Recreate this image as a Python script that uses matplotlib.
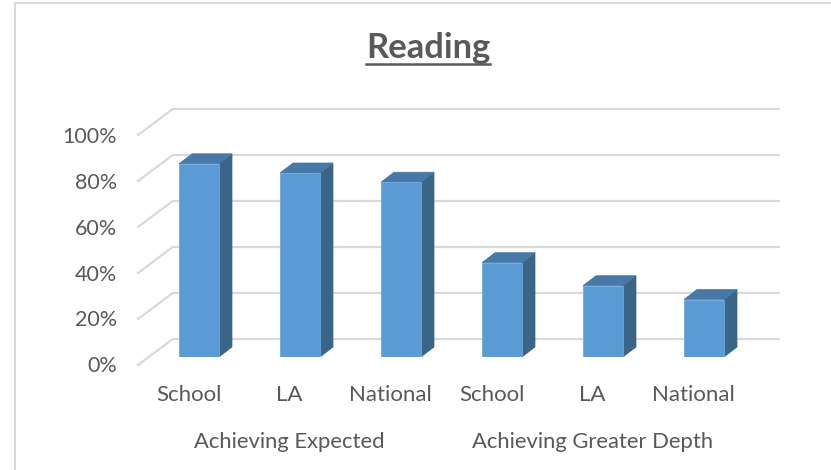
import matplotlib
matplotlib.use('Agg')
import matplotlib.pyplot as plt
from matplotlib.patches import Polygon

categories = ['School', 'LA', 'National', 'School', 'LA', 'National']
groups = ['Achieving Expected', 'Achieving Greater Depth']
group_pos = [1, 4]
values = [84, 80, 76, 41, 31, 25]
yticks = [0, 20, 40, 60, 80, 100]

W, H = 831, 470
fig = plt.figure(figsize=(W / 100, H / 100), dpi=100)
plt.rcParams['font.family'] = ['Lato', 'DejaVu Sans']

# the axes is the plane the bar fronts stand on, everything else is offset from it
left, right, bottom, top = 149, 755, 357, 127
ax = fig.add_axes([left / W, 1 - bottom / H, (right - left) / W, (bottom - top) / H])
ax.set_xlim(-0.5, 5.5)
ax.set_ylim(0, 100)
ax.axis('off')

px = 6 / (right - left)        # px to x units
py = 100 / (bottom - top)      # px to y units
grid_col = '#D9D9D9'
text_col = '#595959'
bar_w = 40 * px
depth_x, depth_y = 13 * px, 10 * py

# gridlines, back wall + diagonal on the floor side
fx, fy = -11 * px, 8 * py
bx, by = 23.7 * px, 18 * py
for v in yticks:
    ax.plot([-0.5 + fx, -0.5 + bx, 5.5 + bx], [v - fy, v + by, v + by],
            color=grid_col, lw=1.6, clip_on=False, zorder=1, solid_joinstyle='miter')
    ax.text(-0.5 - 32 * px, v - fy - 1.5 * py, '%d%%' % v, ha='right', va='center',
            fontsize=15.5, color=text_col)

# bars
for i, v in enumerate(values):
    l, r = i - bar_w / 2 - 0.5 * px, i + bar_w / 2 - 0.5 * px
    ax.add_patch(Polygon([[r, 0], [r + depth_x, depth_y], [r + depth_x, v + depth_y], [r, v]],
                         facecolor='#3A6587', edgecolor='#3A6587', lw=0.5, zorder=3))
    ax.add_patch(Polygon([[l, v], [l + depth_x, v + depth_y], [r + depth_x, v + depth_y], [r, v]],
                         facecolor='#4679A8', edgecolor='#4679A8', lw=0.5, zorder=3))
    ax.bar(i - 0.5 * px, v, width=bar_w, color='#5B9BD5', edgecolor='#72A8DA', lw=0.6, zorder=4)

# category labels
for i, c in enumerate(categories):
    ax.text(i + fx, -(395 - bottom) * py, c, ha='center', va='center',
            fontsize=16, color=text_col)
for p, g in zip(group_pos, groups):
    ax.text(p + fx, -(442 - bottom) * py, g, ha='center', va='center',
            fontsize=15.8, color=text_col)

# title with underline
title = fig.text(428 / W, 1 - 48 / H, 'Reading', ha='center', va='center',
                 fontsize=24.8, fontweight='bold', color=text_col)
fig.canvas.draw()
bb = title.get_window_extent()
fig.add_artist(plt.Line2D([bb.x0 / W, bb.x1 / W], [1 - 64 / H, 1 - 64 / H], color=text_col, lw=1.8))

# chart border, only top and left are in the crop
fig.add_artist(plt.Line2D([15 / W, 15 / W, 1], [0, 1 - 3 / H, 1 - 3 / H], color=grid_col, lw=1.4))

fig.savefig('out.png', dpi=100)
